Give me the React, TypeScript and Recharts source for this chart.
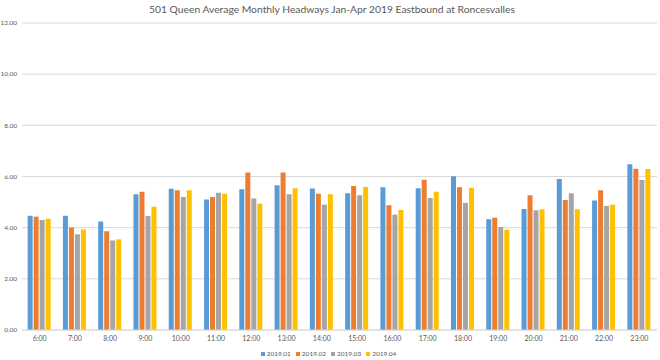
import { BarChart, Bar, XAxis, YAxis, CartesianGrid, Legend } from "recharts"

const hours = ["6:00", "7:00", "8:00", "9:00", "10:00", "11:00", "12:00", "13:00", "14:00", "15:00", "16:00", "17:00", "18:00", "19:00", "20:00", "21:00", "22:00", "23:00"]
const jan = [4.47, 4.47, 4.24, 5.31, 5.52, 5.10, 5.50, 5.66, 5.53, 5.35, 5.58, 5.54, 6.01, 4.33, 4.73, 5.90, 5.06, 6.48]
const feb = [4.43, 4.01, 3.86, 5.40, 5.46, 5.20, 6.16, 6.16, 5.33, 5.63, 4.88, 5.87, 5.58, 4.39, 5.27, 5.08, 5.46, 6.30]
const mar = [4.30, 3.74, 3.50, 4.46, 5.20, 5.36, 5.14, 5.31, 4.90, 5.27, 4.51, 5.16, 4.97, 4.03, 4.68, 5.35, 4.85, 5.86]
const apr = [4.35, 3.93, 3.54, 4.82, 5.46, 5.33, 4.94, 5.54, 5.31, 5.59, 4.69, 5.40, 5.56, 3.92, 4.72, 4.72, 4.90, 6.29]
const yTicks = [0, 2, 4, 6, 8, 10, 12]

const series = [
  { key: "2019.01", values: jan, color: "#5B9BD5" },
  { key: "2019.02", values: feb, color: "#ED7D31" },
  { key: "2019.03", values: mar, color: "#A5A5A5" },
  { key: "2019.04", values: apr, color: "#FFC000" },
]

const data = hours.map((h, i) => {
  const row: Record<string, string | number> = { hour: h }
  series.forEach((s) => { row[s.key] = s.values[i] })
  return row
})

const font = "Lato, Liberation Sans, sans-serif"

function LegendBox() {
  return (
    <div style={{ display: "flex", justifyContent: "center", gap: 5, fontSize: 6.5, color: "#595959", fontFamily: font, lineHeight: "12px" }}>
      {series.map((s) => (
        <div key={s.key} style={{ display: "flex", alignItems: "center", gap: 2 }}>
          <div style={{ width: 4, height: 4, background: s.color }}></div>
          <span>{s.key}</span>
        </div>
      ))}
    </div>
  )
}

export default function App() {
  return (
    <div style={{ position: "fixed", top: 0, left: 0, width: 660, height: 360, background: "#fff", fontFamily: font }}>
      <div style={{ position: "absolute", top: 2, left: 0, width: 664, textAlign: "center", fontSize: 10.3, lineHeight: "14px", color: "#595959" }}>
        501 Queen Average Monthly Headways Jan-Apr 2019 Eastbound at Roncesvalles
      </div>
      <BarChart width={660} height={360} data={data} margin={{ top: 23, right: 3, left: 0, bottom: 0 }} barGap={1} barCategoryGap="16%">
        <CartesianGrid stroke="#D9D9D9" vertical={false} />
        <XAxis dataKey="hour" axisLine={{ stroke: "#D9D9D9" }} tickLine={false} tickSize={0} height={18} interval={0}
          tick={{ fontSize: 7, fill: "#595959", fontFamily: font }} tickMargin={6} />
        <YAxis domain={[0, 12]} ticks={yTicks} axisLine={false} tickLine={false} tickSize={0} width={22}
          tick={{ fontSize: 6.5, fill: "#595959", fontFamily: font }} tickMargin={5}
          tickFormatter={(v: number) => v.toFixed(2)} />
        <Legend verticalAlign="bottom" height={12} content={() => <LegendBox />} />
        {series.map((s) => (
          <Bar key={s.key} dataKey={s.key} fill={s.color} isAnimationActive={false} />
        ))}
      </BarChart>
    </div>
  )
}
